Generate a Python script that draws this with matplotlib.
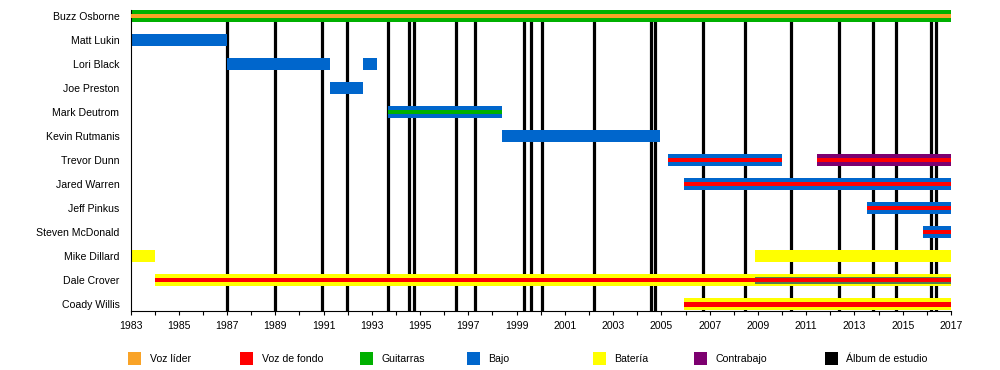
import matplotlib
matplotlib.use("Agg")
import matplotlib.pyplot as plt
from matplotlib.patches import Rectangle
from matplotlib.ticker import FixedLocator, MultipleLocator

# ---------------- data ----------------
members = ["Buzz Osborne", "Matt Lukin", "Lori Black", "Joe Preston", "Mark Deutrom",
           "Kevin Rutmanis", "Trevor Dunn", "Jared Warren", "Jeff Pinkus",
           "Steven McDonald", "Mike Dillard", "Dale Crover", "Coady Willis"]

bar_member = ["Buzz Osborne", "Matt Lukin", "Lori Black", "Lori Black", "Joe Preston",
              "Mark Deutrom", "Kevin Rutmanis", "Trevor Dunn", "Trevor Dunn",
              "Jared Warren", "Jeff Pinkus", "Steven McDonald", "Mike Dillard",
              "Mike Dillard", "Dale Crover", "Dale Crover", "Coady Willis"]
bar_start = [1983.0, 1983.0, 1987.0, 1992.62, 1991.28, 1993.67, 1998.38, 2005.26, 2011.44,
             2005.93, 2013.51, 2015.84, 1983.0, 2008.87, 1984.0, 2008.87, 2005.93]
bar_end = [2017.0, 1987.0, 1991.28, 1993.23, 1992.62, 1998.38, 2004.96, 2010.0, 2017.0,
           2017.0, 2017.0, 2017.0, 1984.0, 2017.0, 2008.87, 2017.0, 2017.0]
bar_outer = ["Guitarras", "Bajo", "Bajo", "Bajo", "Bajo", "Bajo", "Bajo", "Bajo", "Contrabajo",
             "Bajo", "Bajo", "Bajo", "Batería", "Batería", "Batería", "Batería", "Batería"]
bar_middle = [None, None, None, None, None, None, None, None, None,
              None, None, None, None, None, None, "Mixto", None]
bar_inner = ["Voz líder", None, None, None, None, "Guitarras", None, "Voz de fondo", "Voz de fondo",
             "Voz de fondo", "Voz de fondo", "Voz de fondo", None, None, "Voz de fondo",
             "Voz de fondo", "Voz de fondo"]

albums = [1987.0, 1989.0, 1990.92, 1991.96, 1993.66, 1994.53, 1994.73, 1996.47, 1997.26,
          1999.29, 1999.58, 2000.04, 2002.22, 2004.57, 2004.72, 2006.71, 2008.45,
          2010.36, 2012.35, 2013.76, 2014.72, 2016.17, 2016.37]

year_ticks = list(range(1983, 2018, 2))

legend_labels = ["Voz líder", "Voz de fondo", "Guitarras", "Bajo", "Batería",
                 "Contrabajo", "Álbum de estudio"]

colors = {"Voz líder": "#f9a327", "Voz de fondo": "#ff0000", "Guitarras": "#00b000",
          "Bajo": "#0066cc", "Batería": "#ffff00", "Contrabajo": "#7d0070",
          "Álbum de estudio": "#000000", "Mixto": "#527d50"}

# ---------------- layout ----------------
W, H = 1000, 370
FONT = "Liberation Sans"
FS = 7.6
plt.rcParams["font.family"] = [FONT, "DejaVu Sans"]

fig = plt.figure(figsize=(W / 100, H / 100), dpi=100)
ax = fig.add_axes([130.5 / W, 1 - 310.5 / H, (951 - 130.5) / W, (310.5 - 4) / H])

row = {m: i for i, m in enumerate(members)}
outer_h, middle_h, inner_h = 0.5, 0.29, 0.17

# album lines (behind bars)
ax.vlines(albums, len(members) - 0.75, -0.25, colors=colors["Álbum de estudio"],
          linewidth=2.3, zorder=1)

for m, s, e, o, mid, inn in zip(bar_member, bar_start, bar_end, bar_outer, bar_middle, bar_inner):
    y = row[m]
    ax.barh(y, e - s, left=s, height=outer_h, color=colors[o], linewidth=0, zorder=2)
    if mid:
        ax.barh(y, e - s, left=s, height=middle_h, color=colors[mid], linewidth=0, zorder=3)
    if inn:
        ax.barh(y, e - s, left=s, height=inner_h, color=colors[inn], linewidth=0, zorder=4)

ax.set_xlim(1983, 2017)
ax.set_ylim(len(members) - 0.75, -0.5)

ax.set_yticks(range(len(members)))
ax.set_yticklabels(members, fontsize=FS)
ax.tick_params(axis="y", length=0, pad=8)

ax.xaxis.set_major_locator(FixedLocator(year_ticks))
ax.xaxis.set_minor_locator(MultipleLocator(1))
ax.set_xticklabels([str(y) for y in year_ticks])
ax.tick_params(axis="x", which="major", length=3.2, width=0.8, pad=4.5, labelsize=FS)
ax.tick_params(axis="x", which="minor", length=3.2, width=0.8)

for sp in ["top", "right"]:
    ax.spines[sp].set_visible(False)
ax.spines["left"].set_bounds(len(members) - 0.75, -0.25)
ax.spines["left"].set_linewidth(0.8)
ax.spines["bottom"].set_linewidth(0.8)

# legend (manual, positioned in pixels)
legend_x = [128, 240, 360, 467, 593, 694, 825]
sq = 12.5
for lab, x in zip(legend_labels, legend_x):
    fig.add_artist(Rectangle((x / W, 1 - (352.3 + sq) / H), sq / W, sq / H,
                             transform=fig.transFigure, color=colors[lab], linewidth=0))
    fig.text((x + sq + 9) / W, 1 - 359.5 / H, lab, fontsize=FS, va="center", ha="left")

fig.savefig("out.png", dpi=100)
